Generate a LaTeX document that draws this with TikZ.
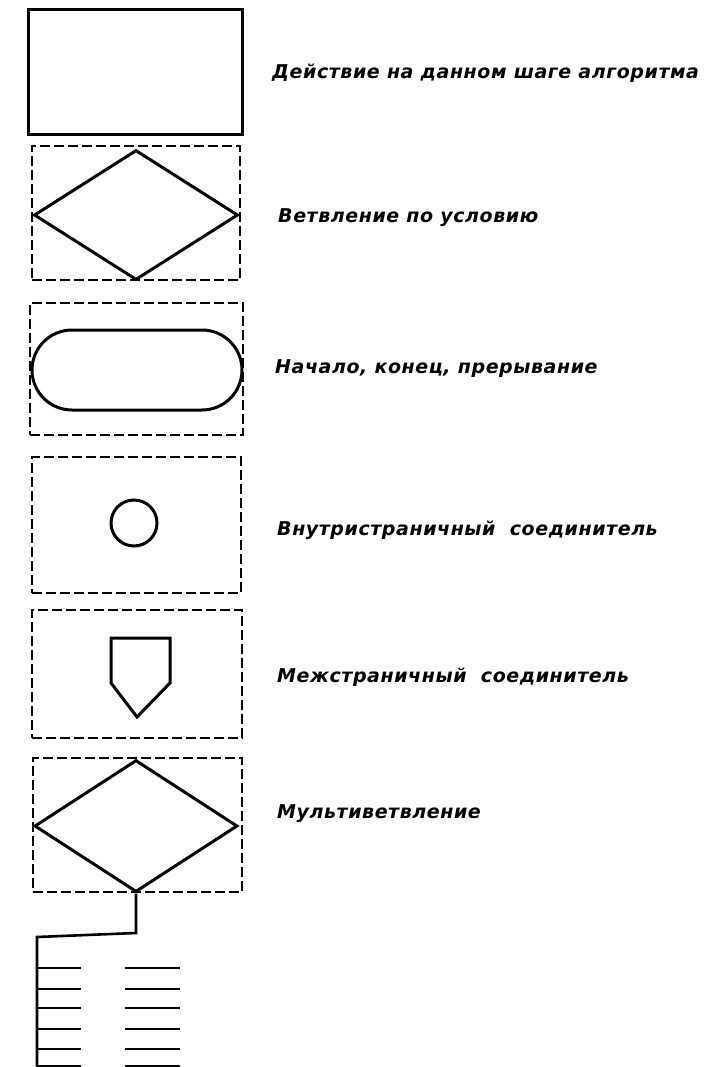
\documentclass[tikz,border=0pt]{standalone}
\usepackage{fontspec}
\setmainfont{DejaVu Sans}
\newfontfamily\gostfont[LetterSpace=3]{DejaVu Sans}
\usetikzlibrary{shapes.geometric, shapes.misc, positioning}

\begin{document}
\begin{tikzpicture}[
  x=1bp, y=-1bp,
% 1. Solid outlines of the symbols
  symbol/.style={
    draw,
    line width=3bp,
    inner sep=0pt
  },
% 2. Dashed frames round the symbols
  frame/.style={
    draw,
    dashed,
    dash pattern=on 10bp off 4bp,
    line width=1.8bp,
    inner sep=0pt
  },
% 3. Captions to the right
  caption/.style={
    anchor=base west,
    inner sep=0pt,
    font=\gostfont\bfseries\itshape\fontsize{19bp}{22bp}\selectfont
  },
  branch/.style={
    line width=2.6bp
  }
]

  \useasboundingbox (0,0) rectangle (711,1067);

  % Action block
  \node[symbol, rectangle, minimum width=213bp, minimum height=125bp] (act) at (135.5,71.5) {};
  \node[caption] (actT) at (272,78) {Действие на данном шаге алгоритма};

  % Decision
  \node[frame, minimum width=208bp, minimum height=134bp] (decF) at (136,213) {};
  \node[symbol, diamond, minimum width=204bp, minimum height=130bp] (dec) at (136,215) {};
  \node[caption] (decT) at (278,222) {Ветвление по условию};

  % Terminator
  \node[frame, minimum width=213bp, minimum height=132bp] (termF) at (136.5,369) {};
  \node[symbol, rounded rectangle, minimum width=210bp, minimum height=80bp] (term) at (137,370) {};
  \node[caption] (termT) at (275,373) {Начало, конец, прерывание};

  % On-page connector
  \node[frame, minimum width=209bp, minimum height=136bp] (onF) at (136.5,525) {};
  \node[symbol, circle, minimum size=46bp] (on) at (134,523) {};
  \node[caption] (onT) at (277,535) {Внутристраничный\ \ соединитель};

  % Off-page connector
  \node[frame, minimum width=210bp, minimum height=128bp] (offF) at (137,674) {};
  \draw[symbol, line join=miter] (111,638) -- (170,638) -- (170,683) -- (137,717) -- (111,683) -- cycle;
  \node[caption] (offT) at (277,682) {Межстраничный\ \ соединитель};

  % Multi-way decision
  \node[frame, minimum width=209bp, minimum height=134bp] (multF) at (137.5,825) {};
  \node[symbol, diamond, minimum width=203bp, minimum height=132bp] (mult) at (136,826) {};
  \node[caption] (multT) at (277,818) {Мультиветвление};

  \coordinate (m1) at (136,933);
  \coordinate (m2) at (37,937);
  \coordinate (m3) at (37,1067);
  \draw[branch] (mult.south) -- (m1) -- (m2) -- (m3);
  \foreach \yy in {968,989,1008,1029,1049,1066} {
    \draw[branch] (37,\yy) -- (81,\yy);
    \draw[branch] (125,\yy) -- (180,\yy);
  }

\end{tikzpicture}
\end{document}
